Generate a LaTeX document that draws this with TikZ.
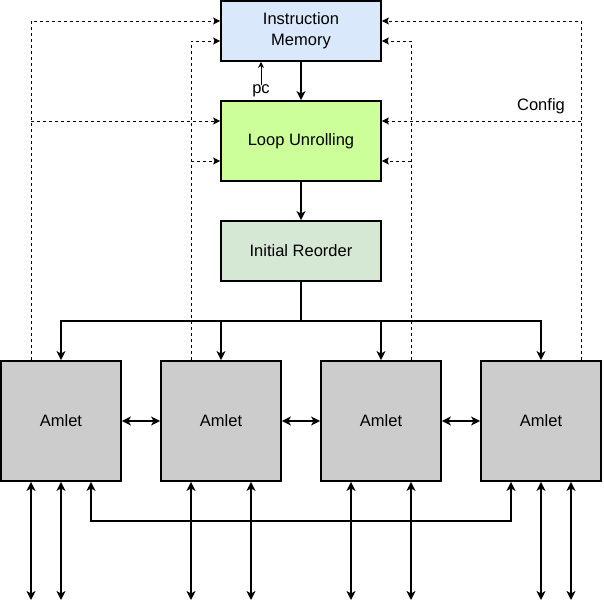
\documentclass[tikz,border=0pt]{standalone}
\usepackage{fontspec}
\setmainfont{Liberation Sans}
\usetikzlibrary{arrows.meta}
\definecolor{memblue}{HTML}{DAE8FC}
\definecolor{unrollgreen}{HTML}{CCFF99}
\definecolor{reordgreen}{HTML}{D5E8D4}
\definecolor{amletgray}{HTML}{CCCCCC}
\begin{document}
\begin{tikzpicture}[x=1pt,y=-1pt]
        \tikzstyle{block}=[draw=black,line width=1.8pt,minimum width=160pt,minimum height=60pt,inner sep=0pt,align=center,font=\fontsize{16.5}{21}\selectfont]
        \tikzstyle{amlet}=[block,fill=amletgray,minimum width=120pt,minimum height=120pt]
        \tikzstyle{edge}=[draw,line width=1.8pt,-{Stealth[length=9pt,width=9pt,inset=2.5pt]}]
        \tikzstyle{both}=[edge,{Stealth[length=9pt,width=9pt,inset=2.5pt]}-{Stealth[length=9pt,width=9pt,inset=2.5pt]}]
        \tikzstyle{cfg}=[draw,line width=0.8pt,dash pattern=on 3pt off 3pt,-{Stealth[length=7pt,width=7pt,inset=1.5pt]}]
        \tikzstyle{lbl}=[font=\fontsize{16.5}{20}\selectfont,inner sep=0pt]
        \useasboundingbox (0,0) rectangle (604,613);
       \begin{scope}
         \node [block,fill=memblue] (mem) at (301,31) {\raisebox{-2pt}{\begin{tabular}{@{}c@{}}Instruction\\Memory\end{tabular}}};
         \node [block,fill=unrollgreen,minimum height=80pt] (unroll) at (301,141) {Loop Unrolling};
         \node [block,fill=reordgreen] (reord) at (301,251) {Initial Reorder};
         \foreach \i/\x in {1/61,2/221,3/381,4/541}
           \node [amlet] (a\i) at (\x,421) {Amlet};
         \node [lbl] (pc) at (261,91) {pc};
         \node [lbl] (config) at (541,106) {Config};
         % main flow
         \path[edge] (mem) -- (unroll);
         \path[edge] (unroll) -- (reord);
         \path[draw,-{Stealth[length=6pt,width=6pt]},line width=0.9pt] (pc.north) -- (mem.south -| pc);
         \coordinate (split) at (301,321);
         \draw[line width=1.8pt] (reord.south) -- (split);
         \foreach \i in {1,2,3,4}
           \path[edge] (split) -| (a\i.north);
         % neighbour links
         \path[both] (a1) -- (a2);
         \path[both] (a2) -- (a3);
         \path[both] (a3) -- (a4);
         % outside ports
         \foreach \i/\x in {1/31,1/61,2/191,2/251,3/351,3/411,4/541,4/571} {
           \coordinate (out\x) at (\x,600);
           \path[both] (a\i.south -| out\x) -- (out\x);
         }
         % bus between the outer amlets
         \coordinate (bus1) at (91,521);
         \coordinate (bus4) at (511,521);
         \path[both] (a1.south -| bus1) -- (bus1) -- (bus4) -- (a4.south -| bus4);
         % config lines
         \coordinate (cl1) at (31,21);
         \coordinate (cl2) at (191,41);
         \coordinate (cl3) at (411,41);
         \coordinate (cl4) at (581,21);
         \coordinate (cu1) at (31,121);
         \coordinate (cu2) at (191,161);
         \coordinate (cu3) at (411,161);
         \coordinate (cu4) at (581,121);
         \path[cfg] (a1.north -| cl1) -- (cl1) -- (mem.west |- cl1);
         \path[cfg] (a2.north -| cl2) -- (cl2) -- (mem.west |- cl2);
         \path[cfg] (a3.north -| cl3) -- (cl3) -- (mem.east |- cl3);
         \path[cfg] (a4.north -| cl4) -- (cl4) -- (mem.east |- cl4);
         \path[cfg] (cu1) -- (unroll.west |- cu1);
         \path[cfg] (cu2) -- (unroll.west |- cu2);
         \path[cfg] (cu3) -- (unroll.east |- cu3);
         \path[cfg] (cu4) -- (unroll.east |- cu4);
        \end{scope}
\end{tikzpicture}
\end{document}
